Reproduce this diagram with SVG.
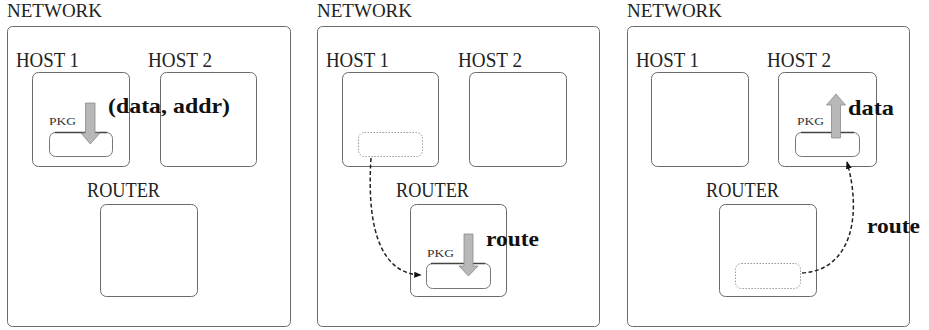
<svg xmlns="http://www.w3.org/2000/svg" width="929" height="330" viewBox="0 0 929 330">
<defs>
<style>
.bg{fill:#fff}
.box{fill:none;stroke:#6a6a6a;stroke-width:1}
.pkg{fill:#fff;stroke:#777;stroke-width:1}
.pkgtop{stroke:#444;stroke-width:1.4}
.ghost{fill:none;stroke:#999;stroke-width:1;stroke-dasharray:1.5,1.5}
.lbl{font-family:"Liberation Serif",serif;font-size:20px;fill:#222}
.net{font-family:"Liberation Serif",serif;font-size:18px;fill:#222}
.small{font-family:"Liberation Serif",serif;font-size:10.5px;fill:#333}
.bold{font-family:"Liberation Serif",serif;font-size:21px;font-weight:bold;fill:#111}
.arrow{fill:#b8b8b8;stroke:#8a8a8a;stroke-width:0.8}
.route{fill:none;stroke:#222;stroke-width:1.5;stroke-dasharray:4,2.5}
</style>
<marker id="ah" viewBox="0 0 10 10" refX="9" refY="5" markerWidth="5" markerHeight="5" orient="auto" markerUnits="strokeWidth">
<path d="M0,1 L10,5 L0,9 z" fill="#111"/>
</marker>
</defs>
<rect class="bg" x="0" y="0" width="929" height="330"/>

<!-- Panel 1 -->
<g id="panel1">
<g id="p1-network">
<text class="net" x="7" y="17" textLength="95" lengthAdjust="spacingAndGlyphs">NETWORK</text>
<rect class="box" x="7.5" y="26.5" width="283" height="300" rx="5"/>
</g>
<g id="p1-host1">
<text class="lbl" x="16" y="67" textLength="63" lengthAdjust="spacingAndGlyphs">HOST 1</text>
<rect class="box" x="32.5" y="72.5" width="97" height="94" rx="6"/>
</g>
<g id="p1-host2">
<text class="lbl" x="148" y="67" textLength="64" lengthAdjust="spacingAndGlyphs">HOST 2</text>
<rect class="box" x="160.5" y="72.5" width="96" height="94" rx="6"/>
</g>
<g id="p1-router">
<text class="lbl" x="87" y="197" textLength="73" lengthAdjust="spacingAndGlyphs">ROUTER</text>
<rect class="box" x="100.5" y="204.5" width="97" height="92" rx="6"/>
</g>
<g id="p1-pkg">
<text class="small" x="49" y="125" textLength="27" lengthAdjust="spacingAndGlyphs">PKG</text>
<rect class="pkg" x="49.5" y="132.5" width="63" height="24" rx="6"/>
<line class="pkgtop" x1="55" y1="132.5" x2="107" y2="132.5"/>
<polygon class="arrow" points="85.5,103 95,103 95,133 100,133 90.3,144 81,133 85.5,133"/>
<text class="bold" x="108" y="113" textLength="122" lengthAdjust="spacingAndGlyphs">(data, addr)</text>
</g>
</g>

<!-- Panel 2 -->
<g id="panel2">
<g id="p2-network">
<text class="net" x="317" y="17" textLength="95" lengthAdjust="spacingAndGlyphs">NETWORK</text>
<rect class="box" x="317.5" y="26.5" width="282" height="300" rx="5"/>
</g>
<g id="p2-host1">
<text class="lbl" x="326" y="67" textLength="63" lengthAdjust="spacingAndGlyphs">HOST 1</text>
<rect class="box" x="342.5" y="72.5" width="96" height="94" rx="6"/>
<rect class="ghost" x="358.5" y="132.5" width="64" height="24" rx="6"/>
</g>
<g id="p2-host2">
<text class="lbl" x="458" y="67" textLength="64" lengthAdjust="spacingAndGlyphs">HOST 2</text>
<rect class="box" x="469.5" y="72.5" width="97" height="94" rx="6"/>
</g>
<g id="p2-router">
<text class="lbl" x="396" y="197" textLength="73" lengthAdjust="spacingAndGlyphs">ROUTER</text>
<rect class="box" x="410.5" y="204.5" width="96" height="92" rx="6"/>
<text class="small" x="427" y="257" textLength="27" lengthAdjust="spacingAndGlyphs">PKG</text>
<rect class="pkg" x="426.5" y="263.5" width="64" height="25" rx="6"/>
<line class="pkgtop" x1="431" y1="263.5" x2="485" y2="263.5"/>
<polygon class="arrow" points="464,234 473,234 473,266 478,266 468.5,276 459,266 464,266"/>
<text class="bold" x="486" y="246" textLength="53" lengthAdjust="spacingAndGlyphs">route</text>
</g>
</g>

<!-- Panel 3 -->
<g id="panel3">
<g id="p3-network">
<text class="net" x="627" y="17" textLength="95" lengthAdjust="spacingAndGlyphs">NETWORK</text>
<rect class="box" x="627.5" y="26.5" width="282" height="300" rx="5"/>
</g>
<g id="p3-host1">
<text class="lbl" x="636" y="67" textLength="63" lengthAdjust="spacingAndGlyphs">HOST 1</text>
<rect class="box" x="651.5" y="72.5" width="97" height="94" rx="6"/>
</g>
<g id="p3-host2">
<text class="lbl" x="767" y="67" textLength="64" lengthAdjust="spacingAndGlyphs">HOST 2</text>
<rect class="box" x="778.5" y="72.5" width="98" height="94" rx="6"/>
<text class="small" x="797" y="125" textLength="27" lengthAdjust="spacingAndGlyphs">PKG</text>
<rect class="pkg" x="795.5" y="132.5" width="64" height="24" rx="6"/>
<line class="pkgtop" x1="801" y1="132.5" x2="854" y2="132.5"/>
<polygon class="arrow" points="831.5,138 840.5,138 840.5,105 845.5,105 836,94 826.5,105 831.5,105"/>
<text class="bold" x="848" y="115" textLength="46" lengthAdjust="spacingAndGlyphs">data</text>
</g>
<g id="p3-router">
<text class="lbl" x="706" y="197" textLength="73" lengthAdjust="spacingAndGlyphs">ROUTER</text>
<rect class="box" x="719.5" y="204.5" width="97" height="92" rx="6"/>
<rect class="ghost" x="735.5" y="263.5" width="65" height="25" rx="6"/>
<text class="bold" x="867" y="233" textLength="53" lengthAdjust="spacingAndGlyphs">route</text>
</g>
</g>

<g id="connectors">
<path class="route" d="M371,158 C366,235 384,274 421,275" marker-end="url(#ah)"/>
<path class="route" d="M802,273 C852,270 862,215 847,162" marker-end="url(#ah)"/>
</g>
</svg>
